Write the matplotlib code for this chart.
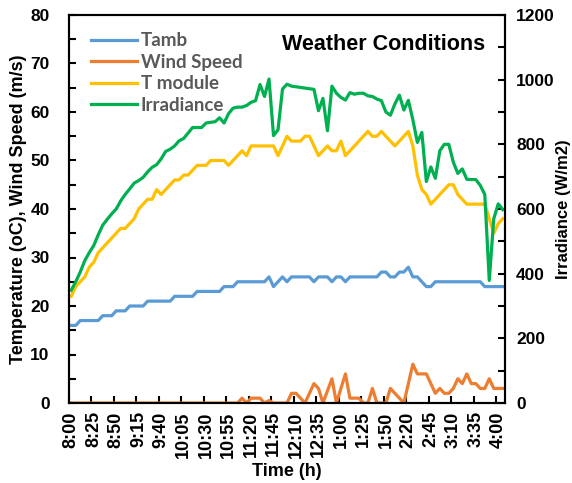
import matplotlib
matplotlib.use("Agg")
import matplotlib.pyplot as plt
import numpy as np

tick_labels = ["8:00", "8:25", "8:50", "9:15", "9:40", "10:05", "10:30", "10:55",
               "11:20", "11:45", "12:10", "12:35", "1:00", "1:25", "1:50", "2:20",
               "2:45", "3:10", "3:35", "4:00"]

tamb = [16, 16, 17, 17, 17, 17, 17, 18, 18, 18, 19, 19, 19, 20, 20, 20, 20,
        21, 21, 21, 21, 21, 21, 22, 22, 22, 22, 22, 23, 23, 23, 23, 23, 23,
        24, 24, 24, 25, 25, 25, 25, 25, 25, 25, 26, 24, 25, 26, 25, 26, 26,
        26, 26, 26, 25, 26, 26, 26, 25, 26, 26, 25, 26, 26, 26, 26, 26, 26,
        26, 27, 27, 26, 26, 27, 27, 28, 26, 26, 25, 24, 24, 25, 25, 25, 25,
        25, 25, 25, 25, 25, 25, 25, 24, 24, 24, 24, 24]

wind = [0] * 38 + [1, 0, 1, 1, 1, 0, 0.5, 0, 0, 0, 0, 2, 2, 1, 0, 2, 4, 3, 0,
                   2.5, 5, 0, 3, 6, 1, 1, 1, 0, 0, 3, 0, 0, 0, 3, 2, 1, 0, 4, 8,
                   6, 6, 6, 4, 2, 3, 2, 2, 3, 5, 4, 6, 4, 4, 3, 3, 5, 3, 3, 3]

tmodule = [22, 24, 25, 26, 28, 29, 31, 32, 33, 34, 35, 36, 36, 37, 38, 40, 41,
           42, 42, 44, 43, 44, 45, 46, 46, 47, 47, 48, 49, 49, 49, 50, 50, 50,
           50, 49, 50, 51, 52, 51, 53, 53, 53, 53, 53, 53, 51, 53, 55, 54, 54,
           54, 55, 55, 53, 51, 52, 53, 52, 52, 54, 51, 52, 53, 54, 55, 56, 55,
           55, 56, 55, 54, 53, 54, 55, 56, 53, 47, 44, 43, 41, 42, 43, 44, 45,
           45, 43, 42, 41, 41, 41, 41, 41, 38, 35, 37, 38]

irradiance = [349, 375, 405, 440, 465, 487, 520, 550, 568, 585, 600, 625, 645,
              662, 680, 688, 698, 715, 729, 737, 755, 778, 785, 795, 811, 818,
              835, 852, 852, 852, 866, 868, 870, 882, 866, 895, 912, 915, 915,
              920, 930, 935, 985, 948, 1002, 827, 845, 971, 986, 980, 978, 976,
              974, 972, 970, 904, 942, 842, 980, 958, 945, 937, 960, 955, 958,
              958, 950, 948, 940, 935, 900, 890, 925, 952, 906, 936, 876, 806,
              837, 685, 730, 695, 780, 800, 800, 745, 710, 724, 692, 691, 691,
              673, 645, 379, 570, 616, 598]

FONT = "Liberation Sans"
W, H = 572, 483
fig = plt.figure(figsize=(W / 100, H / 100), dpi=100)
L, R, T, B = 69, 505, 15, 403
ax = fig.add_axes([L / W, 1 - B / H, (R - L) / W, (B - T) / H])

n = len(tamb)
x = np.arange(n) + 0.5
lw = 2.3
l1, = ax.plot(x, tamb, color="#5B9BD5", lw=lw, label="Tamb")
l2, = ax.plot(x, wind, color="#ED7D31", lw=lw, label="Wind Speed")
l3, = ax.plot(x, tmodule, color="#FFC000", lw=lw, label="T module")
ax2 = ax.twinx()
l4, = ax2.plot(x, irradiance, color="#00B050", lw=lw, label="Irradiance")

ax.set_xlim(0, n)
ax.set_ylim(0, 80)
ax2.set_ylim(0, 1200)
ax.set_yticks(range(0, 81, 10))
ax.set_yticks(range(5, 80, 10), minor=True)
ax2.set_yticks(range(0, 1201, 200))
ax2.set_yticks(range(100, 1200, 200), minor=True)

ax.set_xticks(np.arange(0, 5 * len(tick_labels), 5) + 0.5)
ax.set_xticklabels(tick_labels, rotation=90, fontfamily=FONT,
                   fontweight="bold", fontsize=13)
ax.set_xticks(np.arange(0, 5 * len(tick_labels), 5), minor=True)
ax.tick_params(axis="x", which="major", length=0, pad=6)
ax.tick_params(axis="x", which="minor", length=5, width=1.5, direction="in")
ax.tick_params(axis="y", which="both", length=5, width=1.5, direction="in", pad=14)
ax2.tick_params(axis="y", which="both", length=5, width=1.5, direction="in", pad=8)
for lab in ax.get_yticklabels() + ax2.get_yticklabels():
    lab.set_fontfamily(FONT)
    lab.set_fontweight("bold")
    lab.set_fontsize(12.5)

for a in (ax, ax2):
    for s in a.spines.values():
        s.set_linewidth(1.5)
        s.set_color("black")

ax.set_xlabel("Time (h)", fontfamily=FONT, fontweight="bold", fontsize=13, labelpad=4)
ax.set_ylabel("Temperature (oC), Wind Speed (m/s)", fontfamily=FONT,
              fontweight="bold", fontsize=13, labelpad=2)
ax2.set_ylabel("Irradiance (W/m2)", fontfamily=FONT, fontweight="bold",
               fontsize=12, labelpad=1)

ax2.text(0.955, 0.923, "Weather Conditions", transform=ax.transAxes,
         ha="right", va="center", fontfamily=FONT, fontweight="bold", fontsize=15.5)

leg = ax2.legend(handles=[l1, l2, l3, l4], loc="upper left",
                 bbox_to_anchor=(0.033, 0.975), frameon=False,
                 prop=dict(family="Lato", weight="bold", size=13.5),
                 handlelength=2.45, handletextpad=0.2, labelspacing=0.24,
                 borderaxespad=0.0)
for t in leg.get_texts():
    t.set_color("#595959")

fig.savefig("out.png", dpi=100)
